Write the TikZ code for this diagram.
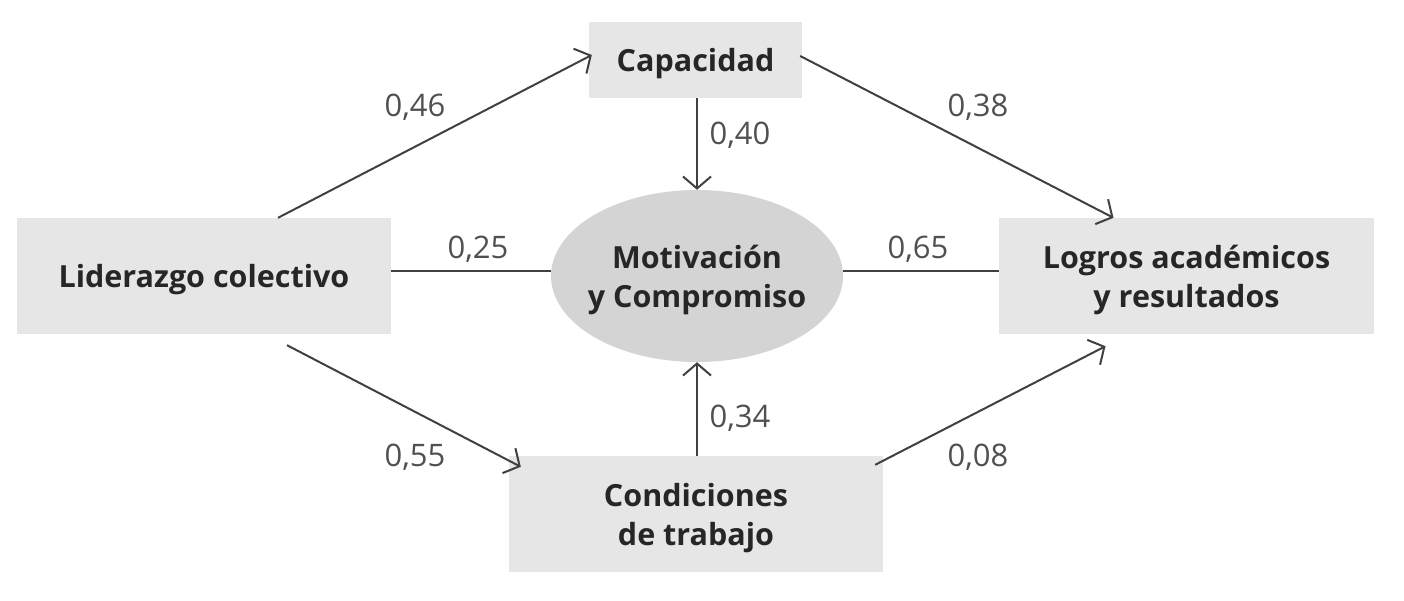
\documentclass[tikz,border=0pt]{standalone}
\usepackage{fontspec}
\setmainfont{Open Sans}
\usetikzlibrary{arrows.meta,shapes.geometric,calc}
\definecolor{boxgray}{HTML}{E6E6E6}
\definecolor{ellgray}{HTML}{D4D4D4}
\definecolor{txt}{HTML}{262626}
\definecolor{numc}{HTML}{505050}
\definecolor{linec}{HTML}{404040}
\tikzset{
  box/.style={rectangle, fill=boxgray, draw=none, align=center, text=txt,
    font=\fontsize{30.5}{39}\selectfont\bfseries, inner sep=0pt, text depth=0pt},
  ellnode/.style={ellipse, fill=ellgray, draw=none, align=center, text=txt,
    font=\fontsize{30.5}{39}\selectfont\bfseries, inner xsep=-40pt, inner ysep=-20pt,
    text depth=0pt, minimum width=292pt, minimum height=172pt},
  num/.style={text=numc, font=\fontsize{31}{34}\selectfont, inner sep=0pt},
  conn/.style={draw=linec, line width=2pt},
  arr/.style={conn, -{Straight Barb[length=12pt,width=28pt,line width=2pt]}}
}
\begin{document}
\begin{tikzpicture}[x=1pt,y=-1pt]
\useasboundingbox (0,0) rectangle (1404,600);
\node[box, minimum width=213pt, minimum height=76pt] (cap) at (695.5,60) {Capacidad};
\node[box, minimum width=374pt, minimum height=116pt] (lid) at (204,276) {Liderazgo colectivo};
\node[box, minimum width=375pt, minimum height=116pt] (log) at (1186.5,276) {Logros académicos\\y resultados};
\node[box, minimum width=374pt, minimum height=116pt] (cond) at (696,514) {Condiciones\\de trabajo};
\node[ellnode] (mot) at (697,276) {Motivación\\y Compromiso};

\draw[arr] ([xshift=74pt]lid.north) -- ([yshift=5pt,xshift=3pt]cap.west);
\draw[arr] ([yshift=4pt,xshift=-2pt]cap.east) -- ([xshift=-73pt]log.north);
\draw[arr] (cap.south -| mot.north) -- (mot.north);
\draw[conn] ([yshift=5pt]lid.east) -- ([yshift=5pt]mot.west);
\draw[conn] ([yshift=5pt]mot.east) -- ([yshift=5pt]log.east -| log.west);
\draw[arr] ([xshift=83pt,yshift=-11pt]lid.south) -- ([xshift=12pt,yshift=-11pt]cond.north west);
\draw[arr] (cond.north -| mot.south) -- (mot.south);
\draw[arr] ([xshift=-8pt,yshift=-9pt]cond.north east) -- ([xshift=-81pt,yshift=-12pt]log.south);

\node[num] (n46) at (415,107) {0,46};
\node[num] (n38) at (978,107) {0,38};
\node[num] (n40) at (740,135) {0,40};
\node[num] (n25) at (478,249) {0,25};
\node[num] (n65) at (918,249) {0,65};
\node[num] (n34) at (740,418) {0,34};
\node[num] (n55) at (415,457) {0,55};
\node[num] (n08) at (978,457) {0,08};
\end{tikzpicture}
\end{document}
